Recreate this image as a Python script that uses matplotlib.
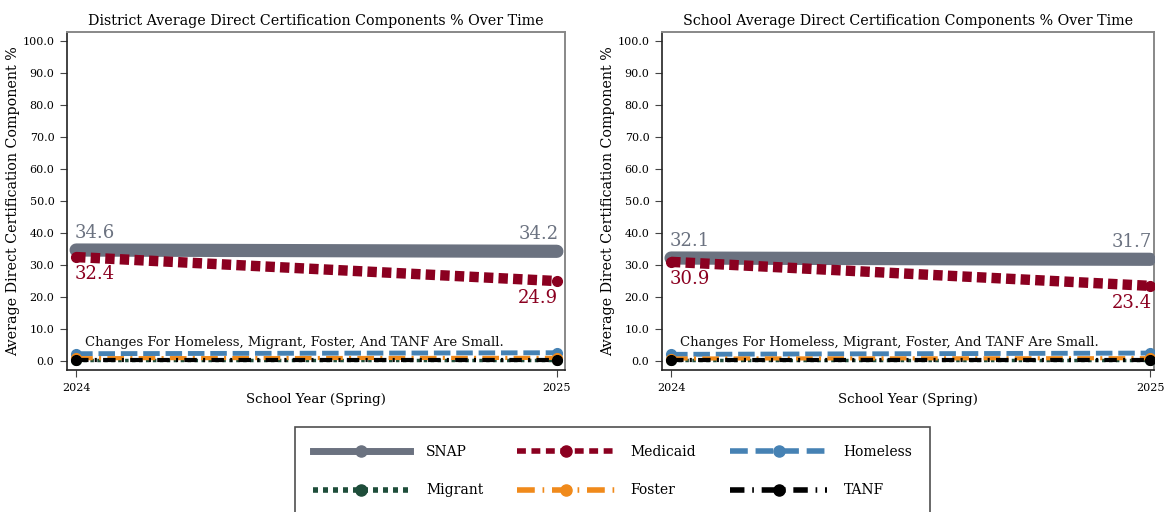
import matplotlib
matplotlib.use("Agg")
import matplotlib.pyplot as plt
from matplotlib.lines import Line2D

years = [2024, 2025]
series_names = ["SNAP", "Medicaid", "Homeless", "Migrant", "Foster", "TANF"]
district_snap = [34.6, 34.2]
district_medicaid = [32.4, 24.9]
district_homeless = [2.2, 2.5]
district_migrant = [0.3, 0.3]
district_foster = [0.8, 0.9]
district_tanf = [0.1, 0.1]
school_snap = [32.1, 31.7]
school_medicaid = [30.9, 23.4]
school_homeless = [2.0, 2.4]
school_migrant = [0.3, 0.3]
school_foster = [0.7, 0.8]
school_tanf = [0.1, 0.1]
yticks = [0, 10, 20, 30, 40, 50, 60, 70, 80, 90, 100]
titles = ["District Average Direct Certification Components % Over Time",
          "School Average Direct Certification Components % Over Time"]
note = "Changes For Homeless, Migrant, Foster, And TANF Are Small."

plt.rcParams['font.family'] = ['DejaVu Serif']

colors = {"SNAP": "#6b7280", "Medicaid": "#8b0020", "Homeless": "#4682b4",
          "Migrant": "#1e4d3a", "Foster": "#f08a1b", "TANF": "#000000"}
styles = {
    "SNAP": dict(lw=9.5, ls="-"),
    "Medicaid": dict(lw=7.5, ls=(0, (0.9, 0.5))),
    "Homeless": dict(lw=3.5, ls=(0, (3.4, 1.2))),
    "Migrant": dict(lw=2.5, ls=(0, (1, 1))),
    "Foster": dict(lw=3, ls=(0, (4, 1.5, 0.5, 1.5))),
    "TANF": dict(lw=3, ls=(0, (3, 1.5, 0.5, 1.5))),
}
leg_styles = {
    "SNAP": dict(lw=5, ls="-"),
    "Medicaid": dict(lw=4, ls=(0, (1.6, 1.0))),
    "Homeless": dict(lw=4, ls=(0, (3.2, 1.4))),
    "Migrant": dict(lw=4, ls=(0, (0.9, 0.9))),
    "Foster": dict(lw=4, ls=(0, (3.2, 1.4, 0.3, 1.4))),
    "TANF": dict(lw=4, ls=(0, (2.6, 1.4, 0.3, 1.4))),
}
zorder = {"SNAP": 3, "Medicaid": 4, "Homeless": 5, "Migrant": 6, "Foster": 7, "TANF": 8}

fig = plt.figure(figsize=(11.65, 5.12), dpi=100)
ax1 = fig.add_axes([0.0575, 0.2773, 0.4275, 0.660])
ax2 = fig.add_axes([0.5682, 0.2773, 0.4223, 0.660])
xlims = [(2023.981, 2025.017), (2023.981, 2025.008)]

datasets = [
    dict(zip(series_names, [district_snap, district_medicaid, district_homeless,
                            district_migrant, district_foster, district_tanf])),
    dict(zip(series_names, [school_snap, school_medicaid, school_homeless,
                            school_migrant, school_foster, school_tanf])),
]

for i, (ax, data, title) in enumerate(zip([ax1, ax2], datasets, titles)):
    for name in series_names:
        ax.plot(years, data[name], color=colors[name], marker="o",
                markersize=7, zorder=zorder[name],
                solid_capstyle="round", dash_capstyle="butt",
                **styles[name])
    snap = data["SNAP"]
    med = data["Medicaid"]
    ax.text(years[0] - 0.003, snap[0] + 2.6, f"{snap[0]:.1f}", color=colors["SNAP"],
            fontsize=13, ha="left", va="bottom")
    ax.text(years[1] + 0.003, snap[1] + 2.6, f"{snap[1]:.1f}", color=colors["SNAP"],
            fontsize=13, ha="right", va="bottom")
    ax.text(years[0] - 0.003, med[0] - 2.6, f"{med[0]:.1f}", color=colors["Medicaid"],
            fontsize=13, ha="left", va="top")
    ax.text(years[1] + 0.003, med[1] - 2.6, f"{med[1]:.1f}", color=colors["Medicaid"],
            fontsize=13, ha="right", va="top")
    ax.text(2024.018, 3.6, note, fontsize=9.5, ha="left", va="bottom", color="#111111")
    ax.set_xlim(*xlims[i])
    ax.set_ylim(-2.9, 102.7)
    ax.set_xticks(years)
    ax.set_xticklabels([str(y) for y in years], fontsize=8)
    ax.set_yticks(yticks)
    ax.set_yticklabels([f"{v:.1f}" for v in yticks], fontsize=8)
    ax.set_title(title, fontsize=10.3, pad=5)
    ax.set_xlabel("School Year (Spring)", fontsize=9.6, labelpad=0)
    ax.set_ylabel("Average Direct Certification Component %", fontsize=10.3, labelpad=2)
    for side in ["left", "bottom"]:
        ax.spines[side].set_color("#222222")
        ax.spines[side].set_linewidth(1.2)
    for side in ["top", "right"]:
        ax.spines[side].set_color("#888888")
        ax.spines[side].set_linewidth(1.4)
    ax.tick_params(length=5, color="#444444", pad=4)

handles = {name: Line2D([], [], color=colors[name], marker="o", markersize=8,
                        dash_capstyle="butt", label=name, **leg_styles[name])
           for name in series_names}
order = ["SNAP", "Migrant", "Medicaid", "Foster", "Homeless", "TANF"]
leg = fig.legend(handles=[handles[n] for n in order], loc="upper center",
                 bbox_to_anchor=(0.5258, 1 - 427 / 512), borderaxespad=0,
                 ncol=3, frameon=True, fancybox=False, fontsize=10,
                 handlelength=7.0, columnspacing=2.45, handletextpad=1.15,
                 borderpad=1.3, labelspacing=1.75)
leg.get_frame().set_edgecolor("#222222")
leg.get_frame().set_linewidth(1.2)

fig.savefig("out.png", dpi=100)
